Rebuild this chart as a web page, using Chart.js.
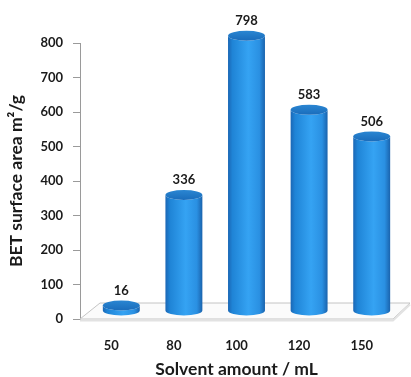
<!DOCTYPE html>
<html><head><meta charset="utf-8">
<script src="https://cdn.jsdelivr.net/npm/chart.js@4/dist/chart.umd.min.js"></script>
<style>html,body{margin:0;padding:0;background:#fff;}canvas{display:block;}</style>
</head><body>
<canvas id="c" width="411" height="377"></canvas>
<script>
const categories = ["50", "80", "100", "120", "150"];
const surfaceArea = [16, 336, 798, 583, 506];
const yTicks = [0, 100, 200, 300, 400, 500, 600, 700, 800];
const xTitle = "Solvent amount / mL";
const yTitle = "BET surface area m\u00B2/g";

const FONT = "Lato, 'Open Sans', sans-serif";
const DX = 10, DY = 8;

const cylinderPlugin = {
  id: 'cyl',
  beforeDatasetsDraw(chart) {
    const ctx = chart.ctx, a = chart.chartArea;
    ctx.save();
    ctx.beginPath();
    ctx.moveTo(a.left, a.bottom);
    ctx.lineTo(a.right, a.bottom);
    ctx.lineTo(a.right + 17, a.bottom - 16);
    ctx.lineTo(a.left + 20, a.bottom - 16);
    ctx.closePath();
    ctx.fillStyle = '#fbfbfb';
    ctx.fill();
    ctx.strokeStyle = '#c4c4c4';
    ctx.lineWidth = 1;
    ctx.stroke();
    ctx.beginPath();
    ctx.moveTo(a.left, a.bottom + 1.5);
    ctx.lineTo(a.right, a.bottom + 1.5);
    ctx.lineTo(a.right + 17, a.bottom - 14.5);
    ctx.strokeStyle = '#e2e2e2';
    ctx.lineWidth = 2;
    ctx.stroke();
    ctx.restore();
  },
  afterDatasetsDraw(chart) {
    const ctx = chart.ctx;
    const meta = chart.getDatasetMeta(0);
    ctx.save();
    meta.data.forEach((el, i) => {
      const cx = el.x + DX;
      const top = el.y - DY;
      const base = el.base - DY;
      const rx = el.width / 2;
      const ry = 5;
      const g = ctx.createLinearGradient(cx - rx, 0, cx + rx, 0);
      g.addColorStop(0, '#1b67b5');
      g.addColorStop(0.12, '#1f84d6');
      g.addColorStop(0.55, '#35a3f3');
      g.addColorStop(0.85, '#2a90e2');
      g.addColorStop(1, '#1a63ad');
      ctx.beginPath();
      ctx.moveTo(cx - rx, top);
      ctx.lineTo(cx - rx, base);
      ctx.ellipse(cx, base, rx, ry, 0, Math.PI, 0, true);
      ctx.lineTo(cx + rx, top);
      ctx.ellipse(cx, top, rx, ry, 0, 0, Math.PI, false);
      ctx.closePath();
      ctx.fillStyle = g;
      ctx.fill();
      ctx.beginPath();
      ctx.ellipse(cx, top, rx, ry, 0, 0, Math.PI * 2);
      const tg = ctx.createLinearGradient(0, top - ry, 0, top + ry);
      tg.addColorStop(0, '#2a86d2');
      tg.addColorStop(1, '#1a6cbb');
      ctx.fillStyle = tg;
      ctx.fill();
      ctx.fillStyle = '#1a1a1a';
      ctx.font = "bold 13px " + FONT;
      ctx.textAlign = 'center';
      ctx.textBaseline = 'middle';
      ctx.fillText(String(surfaceArea[i]), cx, top - ry - 10);
    });
    ctx.restore();
  }
};

new Chart(document.getElementById('c'), {
  type: 'bar',
  data: {
    labels: categories,
    datasets: [{
      data: surfaceArea,
      backgroundColor: 'rgba(0,0,0,0)',
      borderWidth: 0,
      categoryPercentage: 1,
      barPercentage: 0.59
    }]
  },
  options: {
    responsive: false,
    animation: false,
    events: [],
    layout: { padding: { left: 0, right: 18, top: 43, bottom: 0 } },
    plugins: { legend: { display: false }, tooltip: { enabled: false } },
    scales: {
      x: {
        grid: { display: false, drawTicks: false },
        border: { display: false },
        ticks: { color: '#1a1a1a', font: { family: FONT, size: 13, weight: 'bold' }, padding: 19 },
        title: { display: true, text: xTitle, color: '#1a1a1a', font: { family: FONT, size: 17.5, weight: 'bold' }, padding: { top: 5, bottom: -3 } },
        afterFit(s) { s.height = 58; }
      },
      y: {
        min: 0, max: 800,
        afterBuildTicks(s) { s.ticks = yTicks.map(v => ({ value: v })); },
        grid: { drawOnChartArea: false, drawTicks: true, tickLength: 7, color: '#9a9a9a' },
        border: { display: true, color: '#9a9a9a' },
        ticks: { color: '#1a1a1a', font: { family: FONT, size: 13, weight: 'bold' }, padding: 10 },
        title: { display: true, text: yTitle, color: '#1a1a1a', font: { family: FONT, size: 17.5, weight: 'bold' }, padding: { top: 6, bottom: 0 } },
        afterFit(s) { s.width = 80; }
      }
    }
  },
  plugins: [cylinderPlugin]
});
</script>
</body></html>
